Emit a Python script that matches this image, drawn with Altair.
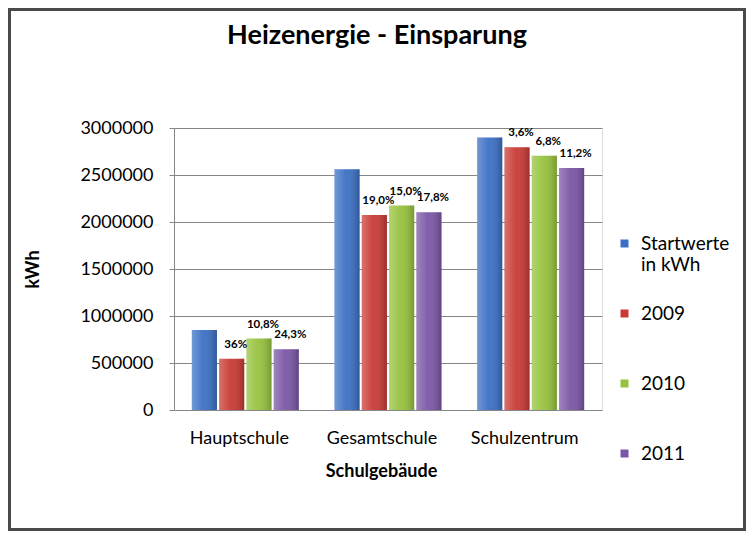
import altair as alt
import pandas as pd

schools = ["Hauptschule", "Gesamtschule", "Schulzentrum"]
series = ["Startwerte in kWh", "2009", "2010", "2011"]
start_vals = [850000, 2560000, 2900000]
v2009 = [545000, 2075000, 2795000]
v2010 = [760000, 2175000, 2705000]
v2011 = [645000, 2105000, 2575000]
lab2009 = ["36%", "19,0%", "3,6%"]
lab2010 = ["10,8%", "15,0%", "6,8%"]
lab2011 = ["24,3%", "17,8%", "11,2%"]
colors = ["#3B70C4", "#C93A34", "#96C23E", "#7B56A6"]

rows = []
for i, s in enumerate(schools):
    rows.append({"Schule": s, "Serie": series[0], "Wert": start_vals[i], "Label": ""})
    rows.append({"Schule": s, "Serie": series[1], "Wert": v2009[i], "Label": lab2009[i]})
    rows.append({"Schule": s, "Serie": series[2], "Wert": v2010[i], "Label": lab2010[i]})
    rows.append({"Schule": s, "Serie": series[3], "Wert": v2011[i], "Label": lab2011[i]})
df = pd.DataFrame(rows)

FONT = "Lato"
PL, PT, PR, PB = 166, 120, 144, 121
W, H = 428, 282

x_enc = alt.X("Schule:N", sort=schools,
              scale=alt.Scale(paddingInner=0.25, paddingOuter=0.125),
              axis=alt.Axis(title="Schulgebäude", labelAngle=0, labelFont=FONT,
                            labelFontSize=18, labelColor="#000000", labelPadding=19,
                            labelOffset=-6, ticks=False, domain=False,
                            titleFont=FONT, titleFontSize=18, titleFontWeight="bold",
                            titleColor="#000000", titleX=207, titleY=52,
                            titleBaseline="top"))
xo_enc = alt.XOffset("Serie:N", sort=series, scale=alt.Scale(paddingInner=0.08))
y_enc = alt.Y("Wert:Q", scale=alt.Scale(domain=[0, 3000000]),
              axis=alt.Axis(title="kWh", values=[0, 500000, 1000000, 1500000, 2000000, 2500000, 3000000],
                            format="d", labelFont=FONT, labelFontSize=18,
                            labelColor="#000000", labelPadding=16, tickSize=5,
                            tickColor="#868686", domainColor="#868686",
                            gridColor="#868686", gridWidth=1,
                            titleFont=FONT, titleFontSize=18, titleFontWeight="bold",
                            titleColor="#000000", titleAngle=-90, titleX=-141,
                            titleY=141, titleBaseline="middle", titleAlign="center"))

base = alt.Chart(df)

bars = base.mark_bar().encode(
    x=x_enc, xOffset=xo_enc, y=y_enc,
    color=alt.Color("Serie:N", sort=series,
                    scale=alt.Scale(domain=series, range=colors), title=None,
                    legend=alt.Legend(orient="none", legendX=441, legendY=106,
                                      symbolType="square", symbolSize=64,
                                      symbolStrokeWidth=0, labelFont=FONT,
                                      labelFontSize=19, labelColor="#000000",
                                      labelOffset=7, rowPadding=29,
                                      labelExpr="datum.label == 'Startwerte in kWh' ? ['Startwerte', 'in kWh'] : [datum.label, ' ']")),
)

shade = base.mark_bar(
    color=alt.Gradient(gradient="linear", x1=0, x2=1, y1=0, y2=0,
                       stops=[alt.GradientStop(color="rgba(255,255,255,0.28)", offset=0),
                              alt.GradientStop(color="rgba(255,255,255,0.05)", offset=0.45),
                              alt.GradientStop(color="rgba(0,0,0,0.22)", offset=1)])
).encode(x=x_enc, xOffset=xo_enc, y=y_enc)

labels = base.transform_filter("datum.Label != ''").mark_text(
    font=FONT, fontSize=11.5, fontWeight="bold", color="#000000",
    baseline="bottom", dy=-9, dx=4
).encode(x=x_enc, xOffset=xo_enc, y=y_enc, text="Label:N")

border = alt.Chart(pd.DataFrame({"a": [0]})).mark_rect(
    fill="transparent", stroke="#4a4a4a", strokeWidth=3
).encode(x=alt.value(-PL + 1.5), x2=alt.value(W + PR - 1.5),
         y=alt.value(-PT + 1.5), y2=alt.value(H + PB - 1.5))

chart = alt.layer(bars, shade, labels, border).properties(
    width=W, height=H,
    autosize=alt.AutoSizeParams(type="none"),
    padding={"left": PL, "top": PT, "right": PR, "bottom": PB},
    title=alt.TitleParams("Heizenergie - Einsparung", font=FONT, fontSize=27,
                          fontWeight="bold", color="#000000", anchor="middle",
                          baseline="bottom", dx=-11, dy=69, offset=0),
).configure_view(stroke="transparent").configure(background="white")

chart.save("out.html", embed_options={"renderer": "svg", "actions": False})
